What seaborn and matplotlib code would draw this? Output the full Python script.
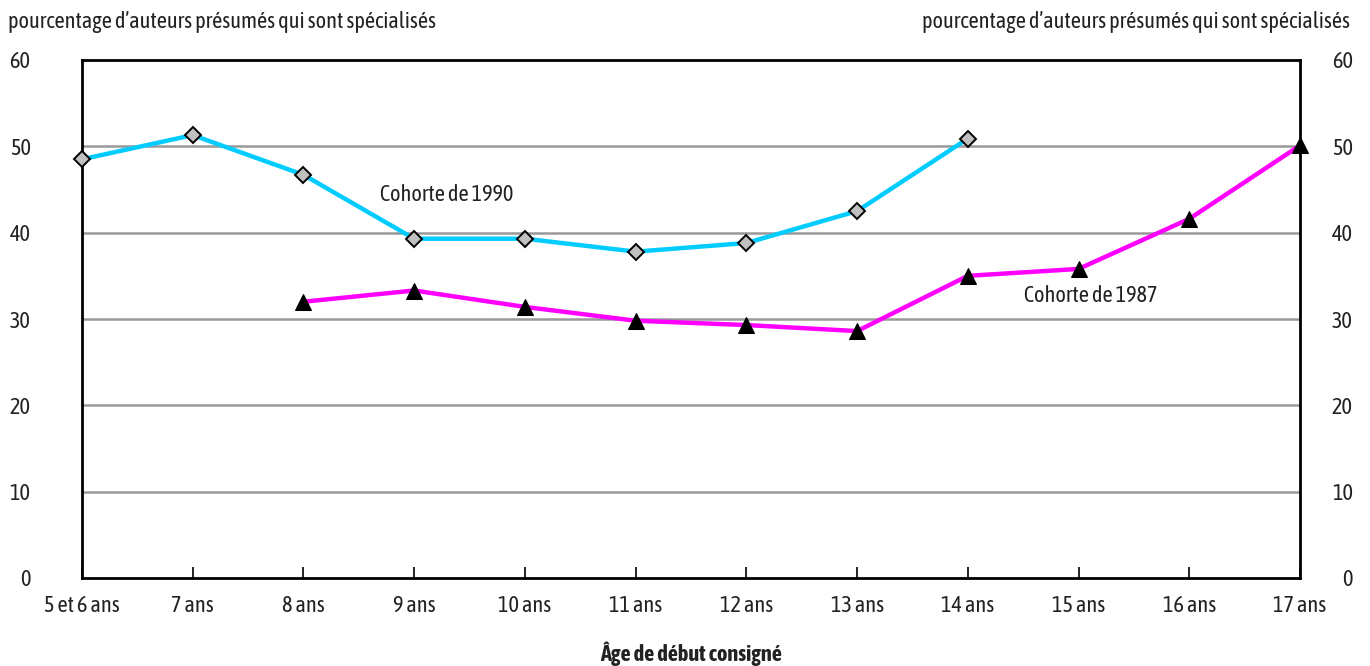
import matplotlib
matplotlib.use("Agg")
import matplotlib.pyplot as plt
from matplotlib import font_manager
import seaborn as sns
import pandas as pd
import numpy as np

categories = ["5 et 6 ans", "7 ans", "8 ans", "9 ans", "10 ans", "11 ans",
              "12 ans", "13 ans", "14 ans", "15 ans", "16 ans", "17 ans"]
cohort_1990 = [48.5, 51.3, 46.7, 39.3, 39.3, 37.8, 38.8, 42.5, 50.9, None, None, None]
cohort_1987 = [None, None, 32.0, 33.3, 31.4, 29.8, 29.3, 28.6, 35.0, 35.8, 41.6, 50.1]
y_ticks = [0, 10, 20, 30, 40, 50, 60]

sns.set_theme(style="white")

# pick a condensed sans family if one is installed (prefer one with a bold face)
fonts = font_manager.fontManager.ttflist
narrow = sorted({f.name for f in fonts
                 if ("Narrow" in f.name or "Condensed" in f.name)
                 and "Mono" not in f.name and "Serif" not in f.name})
with_bold = [n for n in narrow
             if any(f.name == n and (f.weight in ("bold", 700) or str(f.weight) == "700")
                    for f in fonts)]
chosen = (with_bold or narrow)[:1]
fam = chosen + ['Liberation Sans', 'DejaVu Sans']
plt.rcParams['font.family'] = fam

df = pd.DataFrame({"pos": np.arange(len(categories)),
                   "c1990": cohort_1990, "c1987": cohort_1987})

fig = plt.figure(figsize=(13.7, 6.66), dpi=100)
ax = fig.add_axes([82/1370, 1-578/666, (1300-82)/1370, (578-60)/666])

d90 = df.dropna(subset=["c1990"])
d87 = df.dropna(subset=["c1987"])
sns.lineplot(data=d90, x="pos", y="c1990", ax=ax, color="#00CCFF", lw=3.2,
             marker="D", markersize=8, markerfacecolor="#C0C0C0",
             markeredgecolor="black", markeredgewidth=1.4, zorder=4, clip_on=False)
sns.lineplot(data=d87, x="pos", y="c1987", ax=ax, color="#FF00FF", lw=3.2,
             marker="^", markersize=11, markerfacecolor="black",
             markeredgecolor="black", zorder=4, clip_on=False)

ax.set_xlim(0, len(categories) - 1)
ax.set_ylim(0, 60)
ax.set_yticks(y_ticks)
ax.set_yticklabels([str(t) for t in y_ticks])
ax.set_xticks(df["pos"])
ax.set_xticklabels(categories)
for t in y_ticks[1:-1]:
    ax.axhline(t, color="#999999", lw=1.8, zorder=1)

for s in ax.spines.values():
    s.set_color("black")
    s.set_linewidth(2.0)
    s.set_visible(True)

fs = 16 if narrow else 13
ax.tick_params(axis="x", direction="in", length=8, width=1.2, color="black",
               pad=12, labelsize=fs, labelcolor="#222222", bottom=True)
ax.tick_params(axis="y", length=0, pad=37, labelsize=fs, labelcolor="#222222")
ax.set_xlabel("Âge de début consigné", fontsize=fs, fontweight="bold",
              labelpad=18, color="#222222")
ax.set_ylabel("")

ax2 = ax.twinx()
ax2.set_ylim(0, 60)
ax2.set_yticks(y_ticks)
ax2.set_yticklabels([str(t) for t in y_ticks])
ax2.tick_params(axis="y", length=0, pad=38, labelsize=fs, labelcolor="#222222")
for lbl in ax2.get_yticklabels():
    lbl.set_horizontalalignment("right")
for s in ax2.spines.values():
    s.set_visible(False)

ax.text(3.29, 44.4, "Cohorte de 1990", fontsize=fs, ha="center", va="center",
        color="#222222")
ax.text(9.11, 32.7, "Cohorte de 1987", fontsize=fs, ha="center", va="center",
        color="#222222")

fig.text(8/1370, 1-22/666, "pourcentage d\u2019auteurs présumés qui sont spécialisés",
         fontsize=fs, ha="left", va="center", color="#222222")
fig.text(1350/1370, 1-22/666, "pourcentage d\u2019auteurs présumés qui sont spécialisés",
         fontsize=fs, ha="right", va="center", color="#222222")

fig.savefig("out.png", dpi=100)
